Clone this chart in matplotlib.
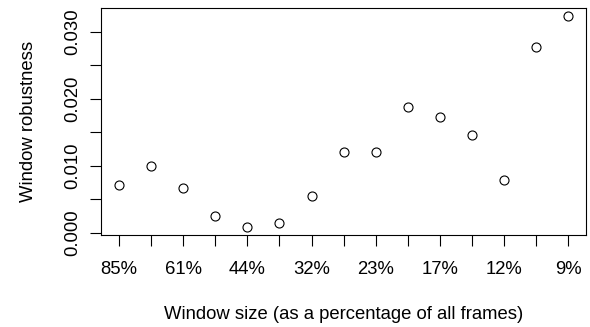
import matplotlib
matplotlib.use("Agg")
import matplotlib.pyplot as plt
import numpy as np

plt.rcParams['font.family'] = ['Liberation Sans', 'DejaVu Sans']

# window sizes (as % of all frames), one per point
window_labels = ["85%", "73%", "61%", "52%", "44%", "38%", "32%", "27%",
                 "23%", "20%", "17%", "14%", "12%", "10%", "9%"]
robustness = [0.00705, 0.0100, 0.0067, 0.0025, 0.0009, 0.0015, 0.0055, 0.0121,
              0.0121, 0.0187, 0.0173, 0.0146, 0.0078, 0.0277, 0.0323]
y_ticks = [0.000, 0.010, 0.020, 0.030]
y_minor = [0.005, 0.015, 0.025]

x = np.arange(1, len(robustness) + 1)

fig = plt.figure(figsize=(5.9, 3.27), dpi=100)
ax = fig.add_axes([0.1712, 0.2813, 0.8225, 0.6952])

ax.plot(x, robustness, linestyle='none', marker='o', markersize=6.5,
        markerfacecolor='white', markeredgecolor='black', markeredgewidth=0.8)

# R-style 4% padding
span = x[-1] - x[0]
ax.set_xlim(x[0] - 0.04 * span, x[-1] + 0.04 * span)
yr = max(robustness) - min(robustness)
ax.set_ylim(min(robustness) - 0.04 * yr, max(robustness) + 0.04 * yr)

ax.set_xticks(x)
ax.set_xticklabels([lab if i % 2 == 0 else "" for i, lab in enumerate(window_labels)])
ax.set_yticks(y_ticks + y_minor)
ax.set_yticklabels([f"{v:.3f}" for v in y_ticks] + [""] * len(y_minor),
                   rotation=90, va='center')

ax.tick_params(axis='both', direction='out', length=8, width=0.8,
               labelsize=13.3, color='black')
ax.tick_params(axis='x', pad=11)
ax.tick_params(axis='y', pad=6)

for s in ax.spines.values():
    s.set_linewidth(0.8)

ax.set_xlabel("Window size (as a percentage of all frames)", fontsize=13.3, labelpad=20)
ax.set_ylabel("Window robustness", fontsize=13.3, labelpad=20)

fig.savefig("out.png", dpi=100)
